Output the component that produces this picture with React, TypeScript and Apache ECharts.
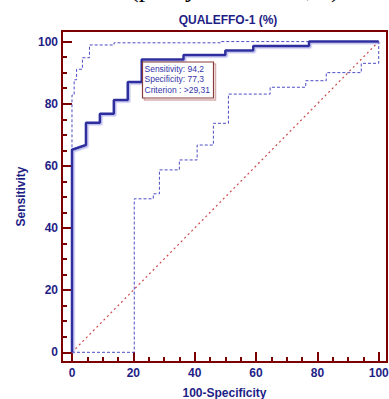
import React, { useEffect, useRef } from "react";
import * as echarts from "echarts";

// ROC curve (100-Specificity, Sensitivity)
const rocFpr = [0, 0, 4.55, 4.55, 9.09, 9.09, 13.64, 13.64, 18.18, 18.18, 22.73, 22.73, 36.36, 36.36, 50, 50, 59.09, 59.09, 77.27, 77.27, 100];
const rocSens = [0, 65.2, 66.7, 73.9, 73.9, 76.8, 76.8, 81.2, 81.2, 87.0, 87.0, 94.2, 94.2, 95.7, 95.7, 97.1, 97.1, 98.6, 98.6, 100, 100];

// Upper confidence bound
const upperFpr = [0, 0, 0.7, 0.7, 1.5, 1.5, 3.4, 3.4, 5.7, 5.7, 13.7, 13.7, 48.5, 48.5, 100];
const upperSens = [0, 82.8, 82.8, 87.7, 87.7, 91.1, 91.1, 94.8, 94.8, 98.9, 98.9, 99.6, 99.6, 100, 100];

// Lower confidence bound
const lowerFpr = [0, 20.3, 20.3, 26.5, 26.5, 28.5, 28.5, 35.0, 35.0, 40.8, 40.8, 46.1, 46.1, 51.0, 51.0, 64.6, 64.6, 76.2, 76.2, 82.9, 82.9, 94.3, 94.3, 100, 100];
const lowerSens = [0, 0, 49.4, 49.4, 51.0, 51.0, 58.7, 58.7, 61.9, 61.9, 66.7, 66.7, 73.7, 73.7, 83.1, 83.1, 85.3, 85.3, 87.4, 87.4, 90.0, 90.0, 93.0, 93.0, 100];

// Reference diagonal
const diagFpr = [0, 100];
const diagSens = [0, 100];

const majorTicks = [0, 20, 40, 60, 80, 100];
const minorTicks = [5, 10, 15, 25, 30, 35, 45, 50, 55, 65, 70, 75, 85, 90, 95];

const titleText = "QUALEFFO-1 (%)";
const xName = "100-Specificity";
const yName = "Sensitivity";
const infoLines = ["Sensitivity: 94,2", "Specificity: 77,3", "Criterion : >29,31"];
const headerFragments = ["A", "(p", "y", ",", "3)."];
const headerFragmentX = [43, 130, 185, 306, 318];

const FRAME = "#7d0000";
const NAVY = "#1e1e86";
const FONT = "'Liberation Sans', Arial, sans-serif";

const pairs = (xs: number[], ys: number[]) => xs.map((x, i) => [x, ys[i]]);

const X_MIN = -3.26, X_MAX = 102.7, Y_MIN = -3.12, Y_MAX = 103.4;

export default function App() {
  const ref = useRef<HTMLDivElement>(null);
  useEffect(() => {
    if (!ref.current) return;
    const chart = echarts.init(ref.current, null, { renderer: "svg" });
    const isXAxis = (d: string) => d === "x";
    const mainAxis = (dim: string) => ({
      type: "value",
      min: isXAxis(dim) ? X_MIN : Y_MIN,
      max: isXAxis(dim) ? X_MAX : Y_MAX,
      position: isXAxis(dim) ? "bottom" : "left",
      splitLine: { show: false },
      axisLine: { show: true, onZero: false, lineStyle: { color: FRAME, width: 2 } },
      axisTick: { show: false },
      axisLabel: {
        show: true,
        customValues: majorTicks,
        color: NAVY,
        fontWeight: "bold",
        fontSize: 12,
        fontFamily: FONT,
        margin: isXAxis(dim) ? 5 : 4,
      },
      name: isXAxis(dim) ? xName : yName,
      nameLocation: "middle",
      nameGap: isXAxis(dim) ? 25 : 35,
      nameTextStyle: { color: NAVY, fontWeight: "bold", fontSize: 12, fontFamily: FONT },
    });
    // helper axis whose zero sits on the grid edge, so tick axes can sit "on zero" there
    const helperAxis = (dim: string) => ({
      type: "value",
      min: 0,
      max: 1,
      position: isXAxis(dim) ? "top" : "right",
      show: false,
    });
    const tickAxis = (dim: string, major: boolean) => ({
      type: "value",
      min: isXAxis(dim) ? X_MIN : Y_MIN,
      max: isXAxis(dim) ? X_MAX : Y_MAX,
      position: isXAxis(dim) ? "bottom" : "left",
      splitLine: { show: false },
      axisLine: { show: false, onZero: true, onZeroAxisIndex: 1 },
      axisTick: {
        show: true,
        inside: true,
        length: major ? 10 : 5,
        customValues: major ? majorTicks : minorTicks,
        lineStyle: { color: FRAME, width: 2 },
      },
      axisLabel: { show: false },
    });
    chart.setOption({
      animation: false,
      grid: {
        left: 62,
        top: 31,
        width: 325,
        height: 331,
        show: true,
        borderColor: FRAME,
        borderWidth: 2,
        backgroundColor: "transparent",
        containLabel: false,
        outerBoundsMode: "none",
      },
      xAxis: [mainAxis("x"), helperAxis("x"), tickAxis("x", true), tickAxis("x", false)],
      yAxis: [mainAxis("y"), helperAxis("y"), tickAxis("y", true), tickAxis("y", false)],
      series: [
        {
          type: "line",
          data: pairs(diagFpr, diagSens),
          symbol: "none",
          lineStyle: { color: "#cc4a4a", width: 1.2, type: [2, 3] },
          z: 1,
        },
        {
          type: "line",
          data: pairs(lowerFpr, lowerSens),
          symbol: "none",
          lineStyle: { color: "#4c4cc4", width: 1, type: [3, 2] },
          z: 2,
        },
        {
          type: "line",
          data: pairs(upperFpr, upperSens),
          symbol: "none",
          lineStyle: { color: "#4c4cc4", width: 1, type: [3, 2] },
          z: 2,
        },
        {
          type: "line",
          data: pairs(rocFpr, rocSens),
          symbol: "none",
          lineStyle: {
            color: "#2d2d9e",
            width: 2.5,
            shadowColor: "rgba(140,140,225,0.55)",
            shadowBlur: 1,
            shadowOffsetX: 1.5,
            shadowOffsetY: 1.5,
          },
          z: 3,
        },
      ],
      graphic: [
        {
          type: "text",
          x: 228,
          y: 20,
          style: {
            text: titleText,
            fill: NAVY,
            font: `bold 12px ${FONT}`,
            align: "center",
            verticalAlign: "middle",
          },
        },
        // cut-off line of document text above the chart
        ...headerFragments.map((t, i) => ({
          type: "text",
          x: headerFragmentX[i],
          y: 1,
          style: {
            text: t,
            fill: "#000",
            font: "26px 'Liberation Serif', 'Times New Roman', serif",
            align: "left",
            verticalAlign: "bottom",
          },
        })),
        {
          type: "rect",
          shape: { x: 144.5, y: 64, width: 71, height: 36 },
          style: { fill: "none", stroke: "#d8b0b0", lineWidth: 1.5 },
          z: 10,
        },
        {
          type: "rect",
          shape: { x: 142.5, y: 62, width: 71, height: 36 },
          style: { fill: "#ffffff", stroke: "#8a3c3c", lineWidth: 1.2 },
          z: 11,
        },
        ...infoLines.map((t, i) => ({
          type: "text",
          x: 144.5,
          y: 69 + i * 10.3,
          z: 12,
          style: {
            text: t,
            fill: "#3434a8",
            font: `8.5px ${FONT}`,
            align: "left",
            verticalAlign: "middle",
          },
        })),
      ],
    });
    return () => chart.dispose();
  }, []);
  return (
    <div
      ref={ref}
      style={{ position: "fixed", left: 0, top: 0, width: 389, height: 399, background: "#fff" }}
    />
  );
}
